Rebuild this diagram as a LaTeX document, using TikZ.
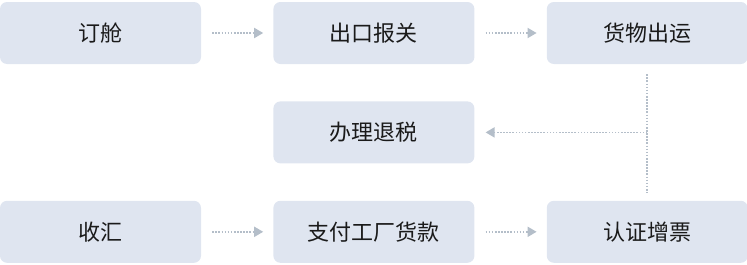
\documentclass[tikz,border=0pt]{standalone}
\usepackage{fontspec}
\setmainfont{Noto Sans CJK SC}
\usetikzlibrary{positioning, arrows.meta}

\definecolor{boxfill}{HTML}{DFE5F0}
\definecolor{linec}{HTML}{B4BEC9}
\definecolor{textc}{HTML}{1A1A1A}

\begin{document}
\begin{tikzpicture}[x=1pt, y=1pt,
  box/.style={fill=boxfill, rounded corners=7pt, minimum width=201pt, minimum height=62pt,
    inner sep=0pt, text=textc, font=\fontsize{22}{26}\selectfont},
  flow/.style={draw=linec, line width=1.8pt, dash pattern=on 1.6pt off 1.5pt,
    -{Triangle[length=9pt, width=10pt]}},
  node distance=37pt and 72pt]

\useasboundingbox (0,0) rectangle (747,-265);

\node[box] (1) at (100.5,-33) {订舱};
\node[box, right=of 1] (2) {出口报关};
\node[box, right=of 2] (3) {货物出运};
\node[box, below=of 2] (4) {办理退税};
\node[box, below=of 4] (6) {支付工厂货款};
\node[box, left=of 6] (5) {收汇};
\node[box, right=of 6] (7) {认证增票};

\coordinate (j) at (3.south |- 4.east);

\draw[flow, shorten <=11pt, shorten >=10pt] (1) -- (2);
\draw[flow, shorten <=11pt, shorten >=10pt] (2) -- (3);
\draw[flow, shorten <=11pt, shorten >=10pt] (5) -- (6);
\draw[flow, shorten <=11pt, shorten >=10pt] (6) -- (7);
\draw[flow, -, shorten <=10pt, shorten >=8pt] (3) -- (7);
\draw[flow, shorten >=11pt] (j) -- (4);

\end{tikzpicture}
\end{document}
